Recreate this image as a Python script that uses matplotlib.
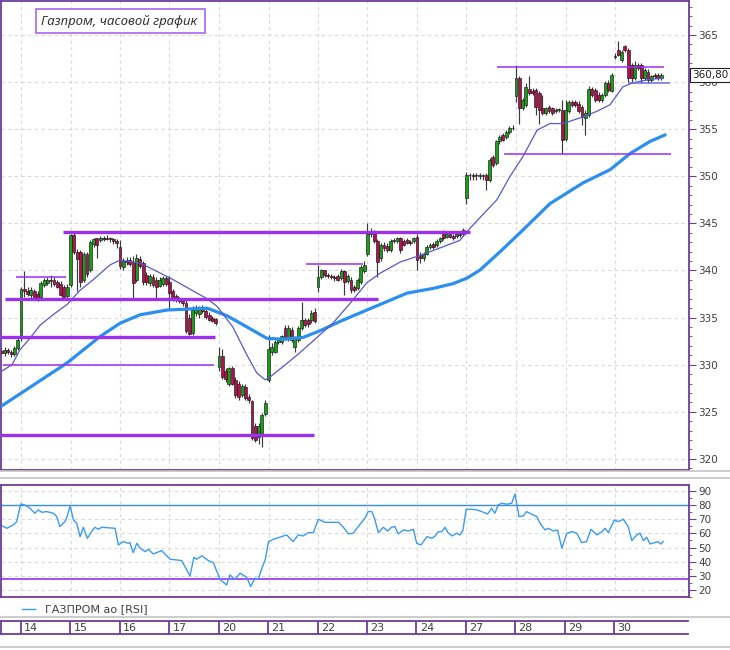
import matplotlib
matplotlib.use('Agg')
import matplotlib.pyplot as plt
from matplotlib.patches import Rectangle
from matplotlib.lines import Line2D
import numpy as np

# ---------------- DATA ----------------
day_labels = ['14', '15', '16', '17', '20', '21', '22', '23', '24', '27', '28', '29', '30']
bars_per_day = 15
first_day_bar = 6

opens = [331.5, 331.2, 331.6, 331.3, 331.1, 331.8,
         332.9, 338.0, 337.8, 337.4, 337.8, 337.5, 337.2, 338.5, 338.7, 339.0, 339.0, 338.8, 338.6, 338.2, 337.3,
         338.5, 343.8, 342.0, 342.0, 339.0, 341.8, 340.0, 342.8, 343.4, 343.2, 343.5, 343.5, 343.4, 343.3, 343.1,
         342.5, 340.4, 341.0, 341.1, 340.9, 339.0, 341.2, 340.8, 339.5, 338.7, 339.3, 339.0, 338.4, 338.6, 339.2,
         338.8, 337.8, 337.3, 336.9, 336.9, 336.6, 335.0, 333.4, 335.5, 335.4, 336.0, 335.7, 335.3, 335.0, 334.8,
         329.8, 330.9, 329.3, 328.0, 329.6, 328.4, 328.0, 326.8, 327.6, 326.6, 326.1, 323.5, 322.3, 322.4, 324.8,
         328.4, 331.4, 331.4, 332.4, 332.4, 333.9, 332.8, 333.7, 331.9, 332.6, 333.9, 334.7, 334.7, 334.7, 335.6,
         338.3, 339.3, 340.0, 339.5, 339.4, 339.3, 339.4, 339.2, 339.9, 338.9, 339.0, 338.3, 338.1, 338.8, 339.9,
         341.8, 343.9, 344.1, 343.1, 341.3, 342.7, 342.6, 342.2, 343.1, 343.1, 343.4, 343.1, 343.2, 342.9, 343.1,
         343.6, 341.6, 341.3, 341.8, 342.5, 342.8, 342.7, 343.1, 343.9, 343.6, 343.9, 343.7, 343.7, 343.9, 343.9,
         347.7, 350.1, 350.1, 350.1, 350.0, 350.1, 350.1, 349.6, 352.1, 351.4, 353.7, 354.4, 354.2, 354.7, 355.1,
         358.5, 360.4, 357.2, 357.6, 359.3, 359.1, 359.2, 358.8, 357.2, 356.7, 357.4, 357.2, 356.9, 357.0, 357.0,
         354.0, 356.9, 357.9, 357.9, 357.7, 357.4, 356.2, 356.5, 359.3, 359.2, 358.6, 358.1, 358.6, 359.9, 359.1,
         362.7, 363.4, 362.3, 363.8, 363.4, 361.8, 360.4, 361.8, 361.8, 360.4, 361.1, 360.2, 360.6, 360.75, 360.4]
highs = [331.9, 331.9, 331.8, 331.6, 332.0, 332.8,
         338.3, 339.9, 338.2, 338.2, 338.0, 337.8, 338.9, 339.2, 339.3, 339.5, 339.3, 339.0, 338.9, 338.5, 338.6,
         343.9, 344.0, 342.3, 342.2, 342.0, 342.0, 343.2, 343.5, 343.5, 343.7, 343.7, 343.8, 343.6, 343.5, 343.3,
         343.2, 341.3, 341.4, 341.4, 341.5, 341.7, 341.5, 341.0, 339.8, 339.6, 339.6, 339.3, 339.3, 339.4, 339.4,
         339.4, 338.0, 337.5, 337.2, 337.1, 336.9, 335.4, 336.2, 336.3, 336.2, 336.3, 336.0, 335.6, 335.2, 335.0,
         331.9, 331.7, 329.6, 329.8, 329.9, 328.7, 328.3, 328.0, 327.9, 326.9, 326.3, 323.8, 323.8, 324.9, 326.3,
         333.1, 332.3, 332.6, 332.8, 333.2, 334.2, 334.2, 334.0, 333.0, 334.1, 336.7, 335.0, 335.0, 335.8, 336.0,
         340.6, 340.2, 340.1, 339.7, 339.6, 339.5, 339.6, 340.2, 340.1, 339.6, 339.3, 338.5, 339.2, 340.6, 341.0,
         345.0, 344.5, 344.3, 343.3, 342.9, 343.0, 342.9, 343.3, 343.4, 343.6, 343.6, 343.3, 343.4, 343.2, 343.6,
         343.9, 342.0, 342.0, 342.7, 342.9, 343.0, 343.3, 343.6, 344.3, 344.1, 344.1, 343.9, 344.0, 344.1, 344.5,
         350.5, 350.3, 350.3, 350.3, 350.3, 350.2, 350.3, 351.9, 352.3, 353.9, 354.4, 354.6, 354.9, 355.3, 355.4,
         361.8, 360.6, 358.3, 359.9, 360.6, 359.4, 359.4, 359.1, 358.6, 357.4, 357.6, 357.4, 357.3, 357.3, 358.1,
         358.1, 358.1, 358.1, 358.1, 358.0, 357.6, 357.0, 359.6, 359.5, 359.4, 358.9, 358.8, 360.1, 360.2, 361.0,
         363.1, 364.4, 363.4, 363.9, 363.6, 362.0, 362.2, 362.0, 362.0, 361.5, 361.4, 360.8, 361.0, 361.0, 361.0]
lows = [331.0, 330.9, 331.1, 330.8, 330.9, 331.6,
        332.5, 337.2, 337.3, 337.0, 336.9, 336.8, 337.0, 338.3, 338.5, 338.3, 338.4, 338.1, 337.3, 336.9, 337.1,
        338.3, 341.8, 337.8, 338.3, 338.8, 339.3, 339.8, 342.5, 341.3, 343.0, 343.1, 343.2, 343.0, 342.8, 342.4,
        340.2, 340.1, 340.6, 340.5, 337.1, 338.8, 340.3, 338.5, 338.5, 338.4, 338.2, 337.1, 338.2, 338.4, 338.4,
        335.8, 336.8, 336.7, 336.6, 336.2, 333.4, 333.1, 333.2, 335.2, 335.0, 335.5, 334.9, 334.6, 334.5, 334.2,
        329.3, 328.5, 328.2, 327.7, 327.8, 326.5, 326.3, 326.6, 326.2, 325.9, 322.0, 321.8, 321.6, 321.3, 324.6,
        328.2, 331.0, 331.2, 332.2, 332.2, 332.6, 332.5, 332.4, 331.4, 332.4, 333.7, 334.0, 334.0, 334.4, 334.4,
        337.75, 339.1, 339.3, 339.2, 339.1, 338.9, 338.9, 339.0, 337.4, 338.7, 337.6, 337.7, 337.9, 338.6, 339.7,
        341.5, 343.6, 342.9, 339.3, 341.0, 342.1, 342.0, 342.0, 342.9, 342.9, 341.9, 342.6, 342.8, 342.7, 342.9,
        340.0, 340.8, 341.0, 341.6, 342.3, 342.3, 342.5, 342.9, 343.2, 343.4, 343.4, 343.2, 343.5, 343.6, 343.7,
        347.1, 349.6, 349.6, 349.6, 349.7, 349.6, 348.5, 349.4, 351.0, 351.2, 353.4, 353.7, 354.0, 354.5, 354.9,
        357.9, 355.6, 357.0, 357.4, 358.6, 358.6, 356.5, 355.6, 356.5, 356.5, 356.7, 356.5, 356.7, 356.8, 352.4,
        353.8, 356.7, 357.4, 357.4, 356.7, 355.4, 354.4, 356.3, 358.4, 357.9, 357.9, 357.9, 358.4, 359.0, 358.9,
        362.5, 362.8, 362.1, 363.2, 360.0, 359.9, 360.2, 361.3, 359.9, 360.2, 359.9, 360.0, 360.4, 360.2, 360.2]
closes = [331.2, 331.6, 331.3, 331.1, 331.8, 332.6,
          338.0, 337.8, 337.5, 337.9, 337.1, 337.0, 338.7, 339.0, 339.0, 338.9, 338.6, 338.3, 337.4, 337.1, 338.2,
          343.8, 342.0, 341.2, 338.8, 341.8, 339.6, 343.0, 343.3, 342.7, 343.5, 343.3, 343.3, 343.3, 343.1, 342.9,
          340.5, 341.0, 340.9, 340.7, 338.7, 341.3, 340.5, 338.8, 338.8, 339.4, 338.5, 338.3, 339.0, 339.2, 338.6,
          337.6, 337.0, 336.9, 336.8, 336.5, 333.6, 333.3, 335.8, 336.0, 336.0, 335.7, 335.1, 334.7, 334.6, 334.4,
          330.9, 328.7, 328.5, 329.6, 328.0, 326.8, 326.6, 327.7, 326.5, 326.2, 322.2, 322.0, 323.5, 324.7, 325.9,
          331.7, 331.9, 332.4, 332.6, 333.0, 332.8, 333.9, 332.6, 332.8, 333.9, 334.7, 334.2, 334.3, 335.5, 334.6,
          339.3, 340.0, 339.5, 339.4, 339.3, 339.2, 339.0, 339.9, 338.8, 339.4, 337.9, 337.9, 339.0, 340.4, 340.6,
          343.9, 344.1, 343.1, 340.9, 342.7, 342.4, 342.2, 343.1, 343.2, 343.4, 342.2, 342.7, 342.9, 343.0, 343.4,
          341.1, 341.3, 341.8, 342.5, 342.7, 342.5, 343.1, 343.4, 343.4, 343.9, 343.6, 343.4, 343.9, 343.8, 344.3,
          350.1, 350.1, 350.0, 350.1, 350.1, 350.0, 349.6, 351.7, 351.2, 353.7, 354.2, 353.9, 354.7, 355.1, 355.1,
          360.4, 357.2, 358.1, 359.5, 358.8, 358.8, 357.4, 357.0, 356.7, 357.2, 356.9, 356.7, 357.0, 357.1, 353.9,
          357.0, 357.9, 357.6, 357.6, 356.9, 356.3, 356.7, 359.3, 358.6, 358.1, 358.1, 358.6, 359.9, 359.2, 360.8,
          362.7, 362.9, 363.2, 363.4, 360.4, 360.4, 361.8, 361.5, 360.4, 361.3, 360.2, 360.6, 360.75, 360.4, 360.8]
last_price_label = '360,80'

# moving averages (bar index, value)
ma_fast_bar = [-0.4, 3.3, 5.7, 8.7, 11.8, 15.7, 20.0, 23.9, 27.8, 33.0, 36.0, 42.1, 47.2, 51.2, 56.3, 62.4,
               65.4, 70.2, 74.5, 77.5, 80.0, 81.5, 85.4, 89.6, 95.4, 100.5, 105.7, 110.8, 114.8, 120.9, 126.9,
               133.0, 139.0, 142.1, 147.2, 150.2, 154.2, 158.1, 162.4, 166.3, 170.2, 176.3, 180.5, 184.5, 188.4,
               191.2, 196.6, 200.5]
ma_fast_val = [329.2, 330.0, 331.6, 332.8, 334.2, 335.3, 336.4, 337.9, 339.0, 340.6, 341.1, 340.8, 339.9, 339.2,
               338.2, 337.0, 336.2, 334.0, 331.0, 329.1, 328.4, 328.7, 329.8, 331.0, 332.8, 334.4, 336.5, 338.7,
               339.7, 340.9, 341.6, 342.4, 343.2, 344.5, 346.4, 347.5, 350.0, 352.1, 354.9, 355.6, 355.6, 356.3,
               356.9, 357.6, 359.5, 359.9, 360.3, 360.4]
ma_slow_bar = [-0.4, 9.6, 20.0, 30.0, 36.0, 42.1, 50.2, 56.3, 62.4, 68.4, 74.5, 80.5, 85.4, 91.5, 96.6, 102.7,
               110.8, 116.9, 123.0, 130.9, 136.9, 141.2, 145.1, 151.2, 158.1, 166.3, 176.3, 184.5, 190.5, 196.6,
               201.2]
ma_slow_val = [325.5, 327.8, 330.2, 333.0, 334.4, 335.3, 335.8, 335.9, 336.0, 335.2, 334.0, 332.8, 332.7, 332.9,
               333.6, 334.6, 335.8, 336.7, 337.6, 338.1, 338.6, 339.2, 340.05, 342.0, 344.3, 347.1, 349.3, 350.7,
               352.4, 353.7, 354.4]

# support / resistance lines: price, first bar, last bar, thick?
level_price = [344.1, 339.3, 337.0, 332.9, 330.0, 322.5, 340.66, 361.64, 352.37, 359.9]
level_from = [18.7, 4.5, 1.2, -0.4, 0.5, -0.4, 92.4, 150.2, 152.4, 190.0]
level_to = [142.1, 19.6, 114.2, 64.8, 64.5, 94.8, 109.6, 200.8, 203.0, 202.7]
level_thick = [True, False, True, True, False, True, False, False, False, False]

# RSI
rsi_bar = [-0.3, 1.7, 3.7, 4.7, 5.9, 7.2, 8.7, 10.2, 11.2, 12.3, 13.8, 15.8, 16.8, 17.8, 19.3, 19.8, 20.9, 21.9,
           22.9, 23.9, 24.9, 26.1, 27.4, 28.4, 29.4, 30.5, 34.5, 35.5, 37.0, 38.5, 39.0, 40.0, 41.1, 42.1, 43.6,
           44.6, 46.1, 48.6, 51.2, 53.2, 54.7, 57.2, 58.4, 59.2, 60.8, 62.8, 64.3, 66.3, 68.3, 69.3, 70.8, 72.4,
           74.4, 75.6, 76.9, 77.9, 79.0, 80.0, 81.0, 82.5, 85.0, 86.5, 88.5, 90.0, 91.5, 93.1, 94.6, 96.1, 98.1,
           102.2, 103.7, 105.2, 106.7, 108.2, 110.2, 111.2, 112.3, 113.1, 114.3, 115.8, 117.1, 118.3, 119.3, 120.3,
           121.9, 123.4, 124.9, 125.9, 127.2, 129.0, 130.5, 131.5, 132.5, 133.5, 134.5, 135.5, 136.7, 138.0, 139.0,
           139.9, 140.9, 142.6, 144.1, 145.6, 147.4, 148.6, 149.6, 150.6, 151.7, 153.2, 154.7, 155.7, 156.9, 158.2,
           159.2, 160.8, 162.3, 163.3, 164.8, 165.8, 167.3, 168.6, 169.9, 171.4, 172.9, 174.4, 175.9, 177.4, 178.7,
           180.5, 182.0, 183.0, 184.0, 185.8, 187.0, 188.5, 190.0, 191.1, 192.6, 193.6, 194.6, 195.6, 196.6, 198.1,
           198.9, 199.9, 200.6]
rsi_val = [66, 63.6, 66, 68.3, 80.8, 80, 77.7, 74.2, 76.6, 74.9, 75.4, 74.2, 71.9, 64.8, 68.3, 70.7, 79.4, 69.5,
           67.1, 57.7, 64.3, 56.5, 61.2, 64.3, 62.9, 64.3, 63.6, 51.8, 54.2, 53, 53.5, 46.4, 53, 49.5, 47.1, 48.8,
           45.4, 47.8, 41.7, 41.2, 40.7, 29.9, 43.1, 41.7, 44.1, 40.7, 39.3, 27.5, 23.5, 30.6, 27.5, 31.8, 29, 22.4,
           28.3, 27.5, 35.3, 41.2, 54.2, 55.8, 57.7, 58.9, 54.2, 58.9, 58.2, 60.5, 60.5, 70, 67.8, 67.8, 64.3, 59.6,
           60.1, 64.8, 70.7, 75.4, 75.4, 70.7, 60.5, 64.3, 61.7, 64.3, 64.8, 59.6, 62.4, 61.7, 62.9, 53, 51.8, 57.7,
           56.5, 58.2, 61.2, 61.2, 64.3, 60.1, 58.2, 60.1, 58.9, 62, 77, 77, 76.6, 75.4, 73.7, 77.7, 74.2, 80.1,
           81.3, 80.6, 81.3, 87.9, 71.9, 72.3, 75.4, 73.5, 71.9, 67.1, 62.4, 63.6, 61.7, 62.4, 49.5, 60.1, 61.2,
           60.1, 53.5, 54.2, 62.9, 58.9, 61.2, 63.6, 60.5, 69.5, 68.3, 70, 64.8, 54.9, 58.9, 60.1, 54.9, 57.3, 52.5,
           53.5, 54.2, 52.5, 54.2]
rsi_upper = 80
rsi_lower = 27.6

title_text = 'Газпром, часовой график'
legend_text = 'ГАЗПРОМ ао [RSI]'

# ---------------- LAYOUT ----------------
W, H = 730, 650
fig = plt.figure(figsize=(W / 100, H / 100), dpi=100)
fig.patch.set_facecolor('white')

BAR_PX = 3.3        # pixels per bar
BAR0_PX = 21.0      # pixel x of bar 6 (first bar of first labelled day)

def px2bar(x):
    return first_day_bar + (x - BAR0_PX) / BAR_PX

def rect(x0, y0, x1, y1):
    return [x0 / W, 1 - y1 / H, (x1 - x0) / W, (y1 - y0) / H]

PURPLE = '#6a3d9a'
GRIDC = '#d9d9d9'
TXT = '#404040'
xl = (px2bar(1), px2bar(689))
day_starts = [first_day_bar + bars_per_day * k for k in range(len(day_labels))]

# separator grey lines
for yy in (471, 478, 617, 647):
    fig.add_artist(Line2D([0, 1], [1 - yy / H] * 2, color='#c4c4c4', lw=1.2))

# ----- main panel -----
ax = fig.add_axes(rect(1, 1, 689, 470))
ax.set_xlim(*xl)
ax.set_ylim(318.82, 368.61)
for s in ax.spines.values():
    s.set_color(PURPLE)
    s.set_linewidth(1.3)
ax.yaxis.tick_right()
ax.set_yticks(np.arange(320, 366, 5))
ax.set_yticks(np.arange(319, 369, 1), minor=True)
ax.tick_params(axis='y', which='major', direction='out', length=5, color=PURPLE, labelsize=7.5,
               labelcolor=TXT, pad=1.5)
ax.tick_params(axis='y', which='minor', direction='out', length=2.5, color=PURPLE)
ax.set_xticks(day_starts)
ax.tick_params(axis='x', length=0, labelbottom=False)
ax.grid(True, color=GRIDC, linestyle=(0, (3, 3)), lw=0.8)
ax.set_axisbelow(True)

idx = np.arange(len(opens))
o = np.array(opens); c = np.array(closes); hi = np.array(highs); lo = np.array(lows)
up = c >= o
ax.vlines(idx, lo, hi, color='#3a3a3a', lw=0.85, zorder=2)
body_lo = np.minimum(o, c)
body_h = np.maximum(np.abs(c - o), 0.08)
ax.bar(idx[up], body_h[up], bottom=body_lo[up], width=0.85, color='#16a016', edgecolor='#1a1a1a',
       lw=0.45, zorder=3)
ax.bar(idx[~up], body_h[~up], bottom=body_lo[~up], width=0.85, color='#b0124e', edgecolor='#1a1a1a',
       lw=0.45, zorder=3)

ax.plot(ma_slow_bar, ma_slow_val, color='#2a8ff0', lw=2.3, zorder=4, solid_capstyle='round',
        solid_joinstyle='round')
ax.plot(ma_fast_bar, ma_fast_val, color='#5858c8', lw=0.9, zorder=4)

for p, a, b, t in zip(level_price, level_from, level_to, level_thick):
    col = '#6c6ce6' if p == 359.9 else '#9b30f0'
    ax.plot([a, b], [p, p], color=col, lw=2.4 if t else 1.1, zorder=5, solid_capstyle='butt')

# last price box
fig.text(692 / W, 1 - 75 / H, last_price_label, fontsize=7.5, color='#202020', va='center', ha='left',
         bbox=dict(boxstyle='square,pad=0.15', fc='white', ec='#202020', lw=0.8))

# title box
fig.add_artist(Rectangle((36 / W, 1 - 33 / H), (205 - 36) / W, 24 / H, transform=fig.transFigure,
                         fc='white', ec='#b070f0', lw=1.3, zorder=10))
fig.text(41 / W, 1 - 21 / H, title_text, fontsize=9.5, style='italic', color='#333333',
         family=['Noto Sans', 'DejaVu Sans'], va='center', ha='left', zorder=11)

# ----- RSI panel -----
ar = fig.add_axes(rect(1, 485, 689, 597))
ar.set_xlim(*xl)
ar.set_ylim(15.0, 94.2)
for s in ar.spines.values():
    s.set_color(PURPLE)
    s.set_linewidth(1.3)
ar.yaxis.tick_right()
ar.set_yticks(np.arange(20, 91, 10))
ar.set_yticks(np.arange(15, 95, 5), minor=True)
ar.tick_params(axis='y', which='major', direction='out', length=5, color=PURPLE, labelsize=7.5,
               labelcolor=TXT, pad=1.5)
ar.tick_params(axis='y', which='minor', direction='out', length=2.5, color=PURPLE)
ar.set_xticks(day_starts)
ar.tick_params(axis='x', length=0, labelbottom=False)
ar.grid(True, color=GRIDC, linestyle=(0, (3, 3)), lw=0.8)
ar.set_axisbelow(True)
ar.axhline(rsi_upper, color='#3a8ee8', lw=1.0)
ar.axhline(rsi_lower, color='#a040f0', lw=1.3)
ar.plot(rsi_bar, rsi_val, color='#3a9af5', lw=1.0)

# legend
fig.add_artist(Line2D([22 / W, 35 / W], [1 - 609 / H] * 2, color='#3a9af5', lw=1.0))
fig.text(45 / W, 1 - 609 / H, legend_text, fontsize=8, color=TXT, va='center', ha='left')

# ----- date axis -----
ad = fig.add_axes(rect(1, 621, 688, 634))
ad.set_xlim(*xl)
ad.set_ylim(0, 1)
ad.set_xticks([]); ad.set_yticks([])
for k, s in ad.spines.items():
    s.set_color(PURPLE)
    s.set_linewidth(1.3)
ad.spines['right'].set_visible(False)
for d, lab in zip(day_starts, day_labels):
    ad.axvline(d, color=PURPLE, lw=1.3)
    ad.text(d + 1.0, 0.45, lab, fontsize=8, color=TXT, va='center', ha='left')

fig.savefig('out.png', dpi=100, facecolor='white')
